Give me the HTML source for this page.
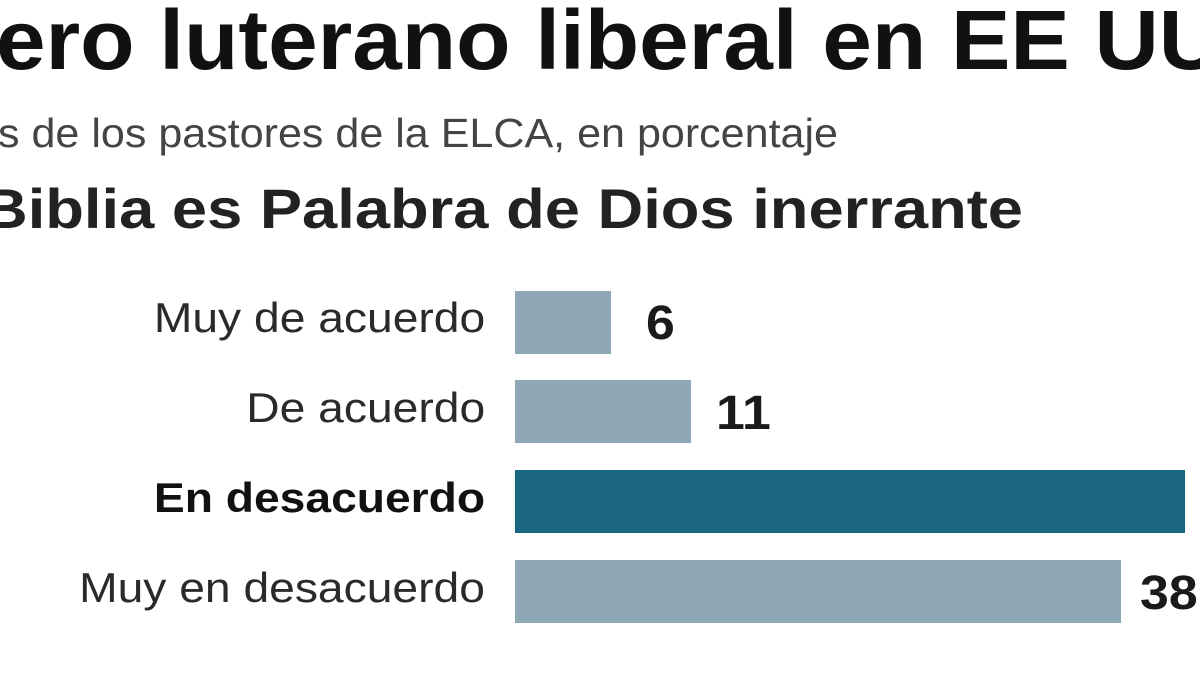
<!DOCTYPE html>
<html><head><meta charset="utf-8"><style>
html,body{margin:0;padding:0;width:1200px;height:675px;overflow:hidden;background:#fff;font-family:"Liberation Sans",sans-serif;position:relative}
.t{position:absolute;white-space:nowrap;transform-origin:0 0}
.bar{position:absolute;left:515px;height:63px;background:#8ea8b6}
.lab{position:absolute;right:715px;font-size:42px;color:#2a2a2a;white-space:nowrap;transform:scaleX(1.1);transform-origin:100% 50%}
.val{position:absolute;font-size:48px;font-weight:bold;color:#1a1a1a;transform:scaleX(1.08);transform-origin:0 50%}
</style></head><body>
<div class="t" style="left:-4px;top:-8px;font-size:84px;font-weight:bold;color:#111;transform:scaleX(1.06)">ero luterano liberal en EE UU</div>
<div class="t" style="left:-2px;top:110px;font-size:41px;color:#444;transform:scaleX(1.05)">s de los pastores de la ELCA, en porcentaje</div>
<div class="t" style="left:-18px;top:176px;font-size:56px;font-weight:bold;color:#222;transform:scaleX(1.13)">Biblia es Palabra de Dios inerrante</div>

<div class="bar" style="top:291px;width:96px"></div>
<div class="bar" style="top:380px;width:176px"></div>
<div class="bar" style="top:470px;width:670px;background:#1b6682"></div>
<div class="bar" style="top:560px;width:606px"></div>

<div class="lab" style="top:294px">Muy de acuerdo</div>
<div class="lab" style="top:384px">De acuerdo</div>
<div class="lab" style="top:474px;font-weight:bold;color:#111">En desacuerdo</div>
<div class="lab" style="top:564px">Muy en desacuerdo</div>

<div class="val" style="left:646px;top:296px">6</div>
<div class="val" style="left:716px;top:386px">11</div>
<div class="val" style="left:1140px;top:566px">38</div>
</body></html>
